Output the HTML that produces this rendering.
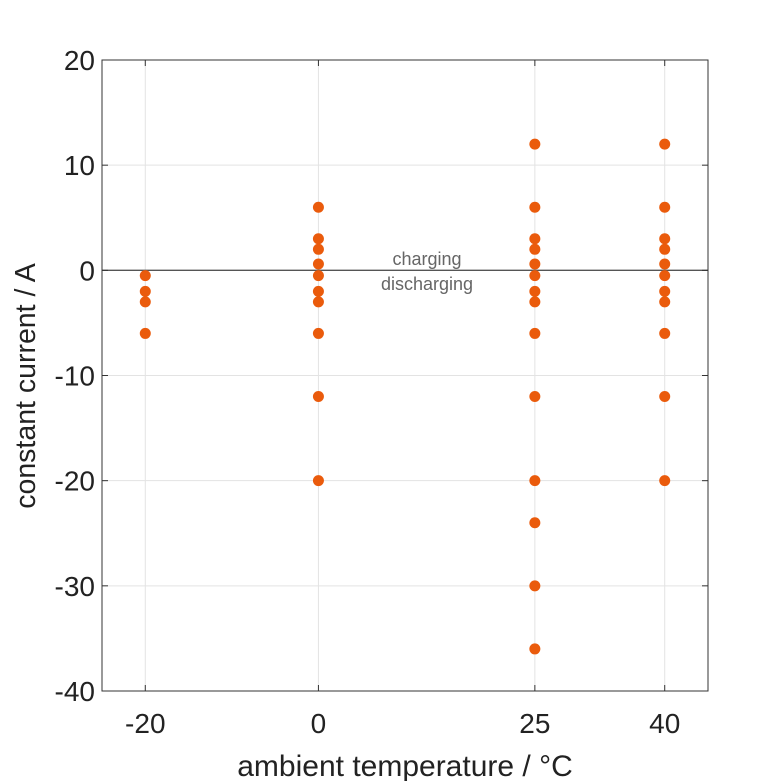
<!DOCTYPE html>
<html><head><meta charset="utf-8"><style>
html,body{margin:0;padding:0;background:#fff;}
svg{display:block;font-family:"Liberation Sans",sans-serif;}
</style></head><body>
<svg id="chart" width="781" height="781"></svg>
<script>
const xTicks=[-20,0,25,40];
const yTicks=[20,10,0,-10,-20,-30,-40];
const temps=[-20,0,25,40];
const currentsM20=[-0.5,-2,-3,-6];
const currents0=[6,3,2,0.6,-0.5,-2,-3,-6,-12,-20];
const currents25=[12,6,3,2,0.6,-0.5,-2,-3,-6,-12,-20,-24,-30,-36];
const currents40=[12,6,3,2,0.6,-0.5,-2,-3,-6,-12,-20];
const seriesList=[currentsM20,currents0,currents25,currents40];

const L=102,R=708,T=60,B=691,xmin=-25,xmax=45,ymin=-40,ymax=20;
const sx=v=>L+(v-xmin)/(xmax-xmin)*(R-L);
const sy=v=>B-(v-ymin)/(ymax-ymin)*(B-T);
const svg=document.getElementById('chart');
const NS='http://www.w3.org/2000/svg';
function mk(tag,attrs,parent){const e=document.createElementNS(NS,tag);for(const k in attrs)e.setAttribute(k,attrs[k]);(parent||svg).appendChild(e);return e;}

const grid=mk('g',{});


xTicks.forEach(t=>{mk('line',{x1:sx(t),x2:sx(t),y1:T,y2:B,stroke:'#e3e3e3','stroke-width':1},grid);});
yTicks.forEach(t=>{mk('line',{x1:L,x2:R,y1:sy(t),y2:sy(t),stroke:'#e3e3e3','stroke-width':1},grid);});

const zl=mk('line',{x1:L,x2:R,y1:sy(0),y2:sy(0),stroke:'#555','stroke-width':1.3});



const frame=mk('rect',{x:L,y:T,width:R-L,height:B-T,fill:'none',stroke:'#333','stroke-width':1});



const ax=mk('g',{});


xTicks.forEach(t=>{
 mk('line',{x1:sx(t),x2:sx(t),y1:B,y2:B-6,stroke:'#333'},ax);
 mk('line',{x1:sx(t),x2:sx(t),y1:T,y2:T+6,stroke:'#333'},ax);
 const tx=mk('text',{x:sx(t),y:B+42,'text-anchor':'middle','font-size':28,fill:'#222'},ax);
 tx.textContent=t;
 
 
});
yTicks.forEach(t=>{
 mk('line',{x1:L,x2:L+6,y1:sy(t),y2:sy(t),stroke:'#333'},ax);
 mk('line',{x1:R,x2:R-6,y1:sy(t),y2:sy(t),stroke:'#333'},ax);
 const tx=mk('text',{x:L-7,y:sy(t)+10,'text-anchor':'end','font-size':28,fill:'#222'},ax);
 tx.textContent=t;
 
 
});
const xt=mk('text',{x:405,y:776,'text-anchor':'middle','font-size':30,fill:'#222'});
xt.textContent='ambient temperature / °C';


const yt=mk('text',{x:0,y:0,'text-anchor':'middle','font-size':28.5,fill:'#222',transform:'translate(35,386) rotate(-90)'});
yt.textContent='constant current / A';



const c1=mk('text',{x:427,y:265,'text-anchor':'middle','font-size':18,fill:'#666'});
c1.textContent='charging';


const c2=mk('text',{x:427,y:290,'text-anchor':'middle','font-size':18,fill:'#666'});
c2.textContent='discharging';



const pts=mk('g',{});


seriesList.forEach((arr,i)=>{
 arr.forEach(v=>{
  const c=mk('circle',{cx:sx(temps[i]),cy:sy(v),r:5.5,fill:'#ea5b0c'},pts);
  
  
 });
});
</script>
</body></html>
